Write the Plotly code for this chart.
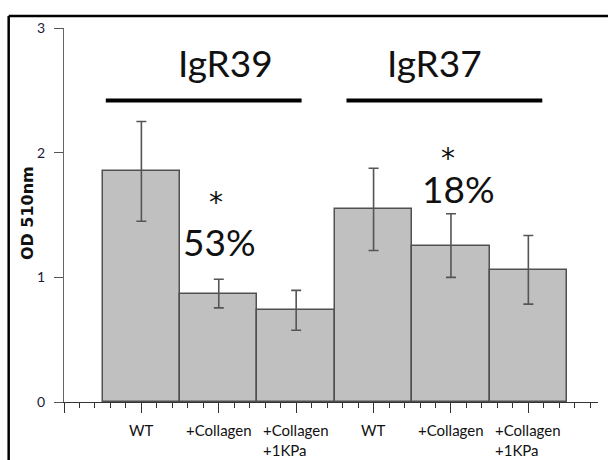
import plotly.graph_objects as go

# Measured optical density at 510 nm for each condition
conditions = ["WT", "+Collagen", "+Collagen<br>+1KPa", "WT", "+Collagen", "+Collagen<br>+1KPa"]
od_mean = [1.85, 0.87, 0.735, 1.545, 1.255, 1.06]
od_err = [0.40, 0.115, 0.16, 0.33, 0.255, 0.275]

groups = ["IgR39", "IgR37"]
reduction_labels = ["53%", "18%"]
reduction_bar = [1, 4]

y_ticks = [0, 1, 2, 3]

FONT = "Lato, 'Open Sans', sans-serif"
INK = "#111111"
GREY_LINE = "#555555"

x_pos = list(range(len(od_mean)))

fig = go.Figure()
fig.add_trace(go.Bar(
    x=x_pos,
    y=od_mean,
    width=1.0,
    marker=dict(color="#c0c0c0", line=dict(color="#505050", width=1.5)),
    error_y=dict(type="data", array=od_err, visible=True,
                 color=GREY_LINE, thickness=1.6, width=5),
    showlegend=False,
    hoverinfo="skip",
))

annotations = []

# Condition labels under the axis
for i, lab in enumerate(conditions):
    annotations.append(dict(
        x=i, y=-0.045, xref="x", yref="paper",
        text=lab, showarrow=False, align="left",
        xanchor="center", yanchor="top",
        font=dict(family=FONT, size=15, color=INK),
    ))

# Group headers with bars spanning their conditions
group_centers = [1.09, 3.79]
group_spans = [(-0.46, 2.07), (2.65, 5.18)]
shapes = []
for name, cx, (a, b) in zip(groups, group_centers, group_spans):
    annotations.append(dict(
        x=cx, y=2.725, xref="x", yref="y", text=name, showarrow=False,
        xanchor="center", yanchor="middle",
        font=dict(family=FONT, size=37, color=INK),
    ))
    shapes.append(dict(type="line", xref="x", yref="y",
                       x0=a, x1=b, y0=2.418, y1=2.418,
                       line=dict(color="#000000", width=4)))

# Significance marks and percentage reduction
star_offsets = [(-0.04, 1.60), (-0.04, 1.95)]
pct_offsets = [(0.01, 1.29), (0.10, 1.71)]
for lab, bi, (sdx, sy), (pdx, py) in zip(reduction_labels, reduction_bar, star_offsets, pct_offsets):
    annotations.append(dict(
        x=bi + sdx, y=sy, xref="x", yref="y", text="*", showarrow=False,
        xanchor="center", yanchor="middle",
        font=dict(family="DejaVu Sans", size=28, color=INK),
    ))
    annotations.append(dict(
        x=bi + pdx, y=py, xref="x", yref="y", text=lab, showarrow=False,
        xanchor="center", yanchor="middle",
        font=dict(family=FONT, size=37, color=INK),
    ))

# Y axis title
annotations.append(dict(
    x=-0.0693, y=0.505, xref="paper", yref="paper", text="<b>OD 510nm</b>",
    showarrow=False, textangle=-90, xanchor="center", yanchor="middle",
    font=dict(family="DejaVu Sans", size=16, color=INK),
))

# Outer frame: top and left edges
frame = dict(color="#000000", width=2.5)
shapes.append(dict(type="line", xref="paper", yref="paper",
                   x0=-0.1036, x1=1.2, y0=1.032, y1=1.032, line=frame))
shapes.append(dict(type="line", xref="paper", yref="paper",
                   x0=-0.1036, x1=-0.1036, y0=-0.3, y1=1.032, line=frame))

fig.update_layout(
    width=608, height=460,
    margin=dict(l=64, r=10, t=28, b=58),
    paper_bgcolor="white", plot_bgcolor="white",
    bargap=0,
    xaxis=dict(
        range=[-1.0, 5.9], showgrid=False, zeroline=False,
        showline=True, linecolor="#333333", linewidth=1.3,
        ticks="outside", tick0=0, dtick=1, ticklen=10, tickwidth=1.3,
        tickcolor="#333333", showticklabels=False,
        minor=dict(ticks="outside", dtick=0.2, tick0=0, ticklen=5,
                   tickwidth=1.3, tickcolor="#333333", showgrid=False),
    ),
    yaxis=dict(
        range=[0, 3], tickvals=y_ticks, showgrid=False, zeroline=False,
        showline=True, linecolor="#666666", linewidth=1.3,
        ticks="outside", ticklen=9, tickwidth=1.3, tickcolor="#555555",
        ticklabelstandoff=6,
        tickfont=dict(family=FONT, size=14, color="#1a1a3a"),
    ),
    annotations=annotations,
    shapes=shapes,
)

fig.write_html("out.html")
